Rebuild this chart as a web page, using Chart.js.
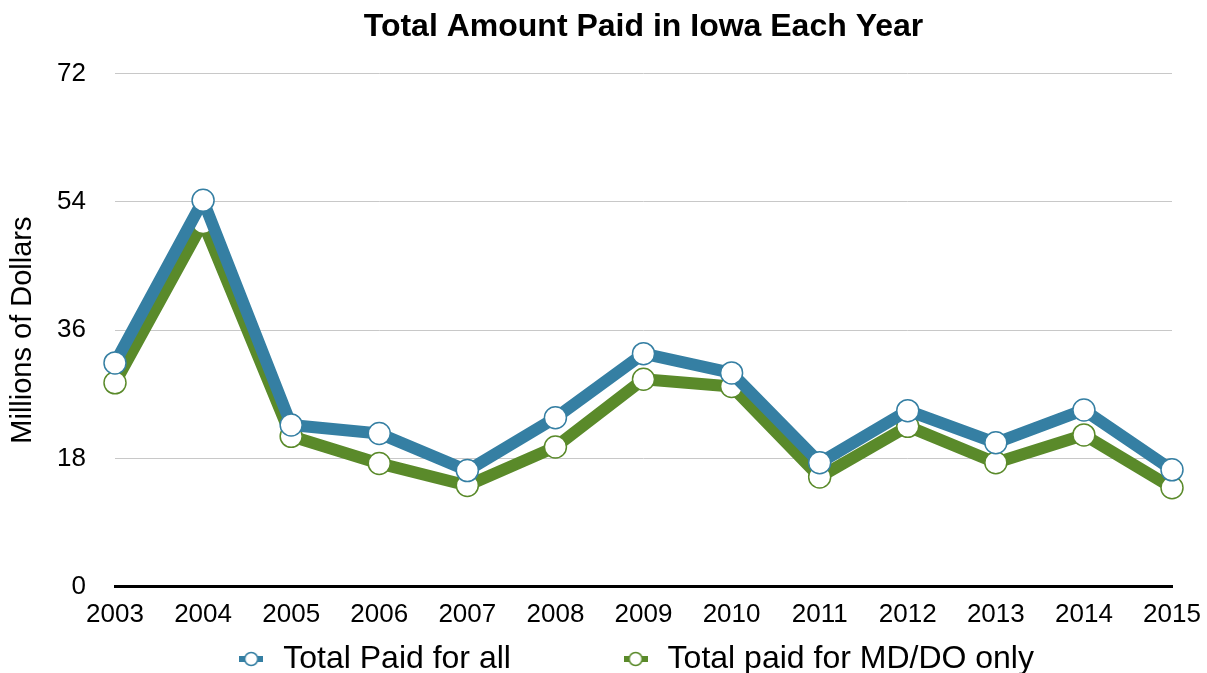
<!DOCTYPE html>
<html>
<head>
<meta charset="utf-8">
<script src="https://cdn.jsdelivr.net/npm/chart.js@4"></script>
<style>
  html, body { margin: 0; padding: 0; background: #fff; }
  #wrap { width: 1207px; height: 673px; }
</style>
</head>
<body>
<div id="wrap"><canvas id="myChart" width="1207" height="673"></canvas></div>
<script>
const years = ["2003", "2004", "2005", "2006", "2007", "2008", "2009", "2010", "2011", "2012", "2013", "2014", "2015"];
const totalAll = [31.4, 54.2, 22.7, 21.5, 16.3, 23.7, 32.7, 30.0, 17.4, 24.7, 20.2, 24.8, 16.4];
const totalMdDo = [28.6, 51.1, 21.1, 17.3, 14.2, 19.6, 29.1, 28.1, 15.4, 22.5, 17.4, 21.3, 13.9];
const yTicks = [0, 18, 36, 54, 72];

const blue = "#357fa3";
const green = "#5a8a2a";
const font = "'Liberation Sans', Arial, Helvetica, sans-serif";

// little legend marker: short thick line with an open circle on it
function marker(color) {
  const c = document.createElement("canvas");
  c.width = 24; c.height = 16;
  const g = c.getContext("2d");
  g.fillStyle = color;
  g.fillRect(0, 5, 24, 6);
  g.beginPath();
  g.arc(12, 8, 6.5, 0, Math.PI * 2);
  g.fillStyle = "#fff";
  g.fill();
  g.lineWidth = 1.5;
  g.strokeStyle = color;
  g.stroke();
  return c;
}

const ctx = document.getElementById("myChart").getContext("2d");
new Chart(ctx, {
  type: "line",
  data: {
    labels: years,
    datasets: [
      {
        label: "Total Paid for all",
        data: totalAll,
        borderColor: blue,
        backgroundColor: "#fff",
        borderWidth: 12,
        borderJoinStyle: "round",
        pointRadius: 11,
        pointBorderWidth: 1.5,
        pointBackgroundColor: "#fff",
        pointBorderColor: blue,
        pointStyle: "circle",
        tension: 0,
      },
      {
        label: "Total paid for MD/DO only",
        data: totalMdDo,
        borderColor: green,
        backgroundColor: "#fff",
        borderWidth: 12,
        borderJoinStyle: "round",
        pointRadius: 11,
        pointBorderWidth: 1.5,
        pointBackgroundColor: "#fff",
        pointBorderColor: green,
        pointStyle: "circle",
        tension: 0,
      },
    ],
  },
  options: {
    responsive: false,
    animation: false,
    layout: { padding: { left: 0, right: 35, top: 0, bottom: -12 } },
    plugins: {
      title: {
        display: true,
        text: "Total Amount Paid in Iowa Each Year",
        fullSize: false,
        color: "#000",
        font: { family: font, size: 32, weight: "bold" },
        padding: { top: 8, bottom: 27 },
      },
      legend: {
        position: "bottom",
        fullSize: false,
        labels: {
          color: "#000",
          font: { family: font, size: 32 },
          usePointStyle: true,
          pointStyleWidth: 32,
          padding: 2,
          generateLabels: (chart) =>
            chart.data.datasets.map((ds, i) => ({
              text: ds.label + (i === 0 ? "            " : "  "),
              pointStyle: marker(ds.borderColor),
              fillStyle: "#fff",
              strokeStyle: ds.borderColor,
              lineWidth: 0,
              datasetIndex: i,
              hidden: false,
            })),
        },
      },
      tooltip: { enabled: false },
    },
    scales: {
      x: {
        offset: false,
        grid: { display: false },
        border: { display: true, color: "#000", width: 3 },
        ticks: {
          color: "#000",
          font: { family: font, size: 26 },
          maxRotation: 0,
          padding: 4,
        },
        afterFit: (axis) => {
          axis.height += 7;
        },
      },
      y: {
        min: 0,
        max: 72,
        afterBuildTicks: (axis) => {
          axis.ticks = yTicks.map((v) => ({ value: v }));
        },
        afterFit: (axis) => {
          axis.width = 115;
        },
        grid: { color: "#c8c8c8", lineWidth: 1, drawTicks: false },
        border: { display: false },
        ticks: {
          color: "#000",
          font: { family: font, size: 26 },
          padding: 29,
        },
        title: {
          display: true,
          text: "Millions of Dollars",
          color: "#000",
          font: { family: font, size: 29 },
          padding: { top: 6, bottom: 0 },
        },
      },
    },
  },
});
</script>
</body>
</html>
